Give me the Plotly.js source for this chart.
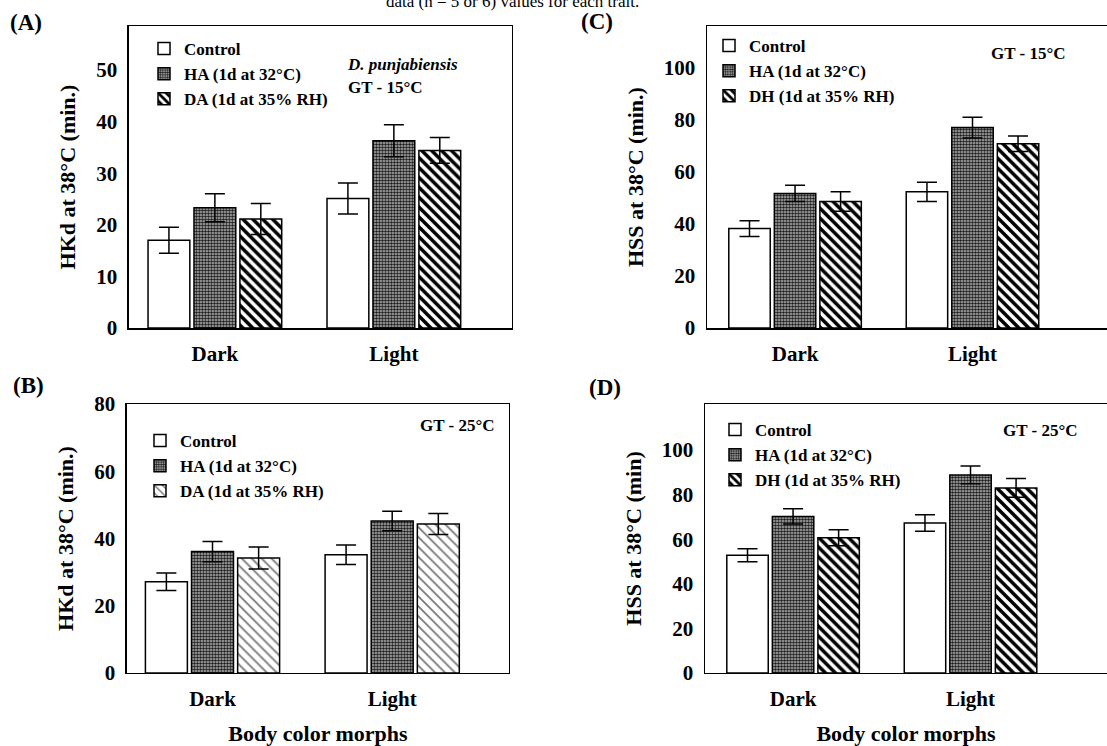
<!DOCTYPE html>
<html>
<head>
<meta charset="utf-8">
<script src="https://cdn.plot.ly/plotly-3.0.1.min.js"></script>
<style>html,body{margin:0;padding:0;background:#fff;}#chart{width:1107px;height:746px;}</style>
</head>
<body>
<div id="chart"></div>
<script>
// ---------- data ----------
const categories = ['Dark', 'Light'];

// Panel A: HKd at 38°C, GT 15°C
const A_control = [17.0, 25.1];
const A_control_err = [2.5, 3.0];
const A_HA = [23.3, 36.3];
const A_HA_err = [2.7, 3.1];
const A_DA = [21.1, 34.4];
const A_DA_err = [3.0, 2.5];

// Panel B: HKd at 38°C, GT 25°C
const B_control = [27.1, 35.2];
const B_control_err = [2.6, 2.9];
const B_HA = [36.1, 45.2];
const B_HA_err = [3.0, 2.9];
const B_DA = [34.2, 44.3];
const B_DA_err = [3.3, 3.1];

// Panel C: HSS at 38°C, GT 15°C
const C_control = [38.2, 52.3];
const C_control_err = [3.0, 3.7];
const C_HA = [51.7, 77.0];
const C_HA_err = [3.1, 4.0];
const C_DH = [48.6, 70.8];
const C_DH_err = [3.7, 3.0];

// Panel D: HSS at 38°C, GT 25°C
const D_control = [52.8, 67.3];
const D_control_err = [2.9, 3.7];
const D_HA = [70.2, 88.8];
const D_HA_err = [3.4, 4.0];
const D_DH = [60.6, 83.0];
const D_DH_err = [3.6, 4.2];

// tick values / labels
const A_ticks = [0, 10, 20, 30, 40, 50];
const B_ticks = [0, 20, 40, 60, 80];
const C_ticks = [0, 20, 40, 60, 80, 100];
const D_ticks = [0, 20, 40, 60, 80, 100];

const nameControl = 'Control';
const nameHA = 'HA (1d at 32°C)';
const nameDA = 'DA (1d at 35% RH)';
const nameDH = 'DH (1d at 35% RH)';

// ---------- styles ----------
const FONT = '"Liberation Serif", "Times New Roman", serif';
const lineStyle = {color: '#000', width: 1.5};
const errStyle = (arr) => ({type: 'data', array: arr, visible: true, color: '#000', thickness: 1.5, width: 10});
const styleControl = {color: '#ffffff', line: lineStyle};
const styleHA = {color: '#ffffff', line: lineStyle,
  pattern: {shape: '.', fgcolor: '#1a1a1a', bgcolor: '#b8b8b8', size: 3, solidity: 0.55, fillmode: 'replace'}};
const styleDark = {color: '#ffffff', line: lineStyle,
  pattern: {shape: '\\', fgcolor: '#000', bgcolor: '#ffffff', size: 7, solidity: 0.5, fillmode: 'replace'}};
const styleLight = {color: '#ffffff', line: lineStyle,
  pattern: {shape: '\\', fgcolor: '#777', bgcolor: '#ffffff', size: 7, solidity: 0.25, fillmode: 'replace'}};

function bar(name, y, err, marker, xa, ya, leg, grp) {
  return {type: 'bar', name: name, x: categories, y: y, error_y: errStyle(err),
    marker: marker, xaxis: xa, yaxis: ya, legend: leg, legendgroup: grp, hoverinfo: 'y'};
}

const data = [
  bar(nameControl, A_control, A_control_err, styleControl, 'x', 'y', 'legend', 'a1'),
  bar(nameHA, A_HA, A_HA_err, styleHA, 'x', 'y', 'legend', 'a2'),
  bar(nameDA, A_DA, A_DA_err, styleDark, 'x', 'y', 'legend', 'a3'),
  bar(nameControl, B_control, B_control_err, styleControl, 'x2', 'y2', 'legend2', 'b1'),
  bar(nameHA, B_HA, B_HA_err, styleHA, 'x2', 'y2', 'legend2', 'b2'),
  bar(nameDA, B_DA, B_DA_err, styleLight, 'x2', 'y2', 'legend2', 'b3'),
  bar(nameControl, C_control, C_control_err, styleControl, 'x3', 'y3', 'legend3', 'c1'),
  bar(nameHA, C_HA, C_HA_err, styleHA, 'x3', 'y3', 'legend3', 'c2'),
  bar(nameDH, C_DH, C_DH_err, styleDark, 'x3', 'y3', 'legend3', 'c3'),
  bar(nameControl, D_control, D_control_err, styleControl, 'x4', 'y4', 'legend4', 'd1'),
  bar(nameHA, D_HA, D_HA_err, styleHA, 'x4', 'y4', 'legend4', 'd2'),
  bar(nameDH, D_DH, D_DH_err, styleDark, 'x4', 'y4', 'legend4', 'd3')
];

const tickFont = {family: FONT, size: 21, color: '#000', weight: 700};
const catFont = {family: FONT, size: 21, color: '#000', weight: 700};
const titleFont = {family: FONT, size: 22, color: '#000', weight: 700};
const legFont = {family: FONT, size: 17, color: '#000', weight: 700};

function xax(domain, range, mirror, anchor, title) {
  const o = {domain: domain, range: range, anchor: anchor, type: 'category', showline: true, linecolor: '#000', linewidth: 1.5,
    mirror: mirror, ticks: '', showgrid: false, zeroline: false, tickfont: catFont, ticklabelstandoff: 6, fixedrange: true};
  if (title) o.title = {text: title, font: titleFont, standoff: 16};
  return o;
}
function yax(domain, range, ticks, mirror, anchor, title) {
  return {domain: domain, range: range, anchor: anchor, showline: true, linecolor: '#000', linewidth: 1.5, mirror: mirror,
    ticks: '', tickmode: 'array', tickvals: ticks, showgrid: false, zeroline: false, tickfont: tickFont,
    ticklabelstandoff: 6, title: {text: title, font: titleFont, standoff: 14}, fixedrange: true};
}
function leg(x, y) {
  return {x: x, y: y, xanchor: 'left', yanchor: 'top', bgcolor: 'rgba(0,0,0,0)', borderwidth: 0, font: legFont,
    traceorder: 'normal', tracegroupgap: 0};
}

function ann(text, x, y, size, extra) {
  return Object.assign({text: text, x: x, y: y, xref: 'paper', yref: 'paper', showarrow: false,
    xanchor: 'center', yanchor: 'middle', font: {family: FONT, size: size, color: '#000', weight: 700}}, extra || {});
}
const W = 1107, H = 746;
const px = (v) => v / W, py = (v) => 1 - v / H;

const layout = {
  width: W, height: H, margin: {l: 0, r: 0, t: 0, b: 0}, paper_bgcolor: '#fff', plot_bgcolor: '#fff',
  barmode: 'group', bargap: 0.23, bargroupgap: 0.09,
  xaxis: xax([0.1165, 0.4625], [-0.48, 1.66], true, 'y'),
  yaxis: yax([0.5603, 0.9651], [0, 58.5], A_ticks, true, 'x', 'HKd at 38°C (min.)'),
  xaxis2: xax([0.1147, 0.4598], [-0.476, 1.65], true, 'y2', 'Body color morphs'),
  yaxis2: yax([0.0979, 0.4584], [0, 80], B_ticks, true, 'x2', 'HKd at 38°C (min.)'),
  xaxis3: xax([0.6387, 1.0], [-0.496, 1.758], true, 'y3'),
  yaxis3: yax([0.5603, 0.9651], [0, 116], C_ticks, false, 'x3', 'HSS at 38°C (min.)'),
  xaxis4: xax([0.6369, 1.0], [-0.496, 1.769], true, 'y4', 'Body color morphs'),
  yaxis4: yax([0.0979, 0.4584], [0, 120.6], D_ticks, false, 'x4', 'HSS at 38°C (min)'),
  legend: leg(px(144), py(31)),
  legend2: leg(px(140), py(423)),
  legend3: leg(px(709), py(28)),
  legend4: leg(px(715), py(412)),
  showlegend: true,
  annotations: [
    ann('data (n = 5 or 6) values for each trait.', px(512), 1, 17, {yshift: -1, font: {family: FONT, size: 17, color: '#000'}}),
    ann('(A)', px(26), py(22), 23),
    ann('(B)', px(28), py(385), 23),
    ann('(C)', px(597), py(21), 23),
    ann('(D)', px(605), py(387), 23),
    ann('<i>D. punjabiensis</i>', px(402), py(65), 17),
    ann('GT - 15°C', px(385), py(88), 17),
    ann('GT - 15°C', px(1028), py(53), 17),
    ann('GT - 25°C', px(457), py(425), 17),
    ann('GT - 25°C', px(1040), py(430), 17)
  ]
};

Plotly.newPlot('chart', data, layout, {displayModeBar: false, staticPlot: true});
</script>
</body>
</html>
